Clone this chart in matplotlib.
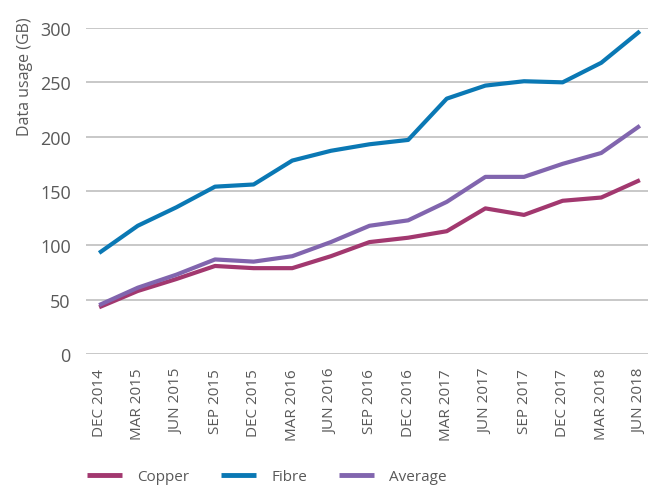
import matplotlib
matplotlib.use("Agg")
import matplotlib.pyplot as plt

plt.rcParams['font.family'] = ['Open Sans', 'DejaVu Sans']

quarters = ["DEC 2014", "MAR 2015", "JUN 2015", "SEP 2015", "DEC 2015", "MAR 2016",
            "JUN 2016", "SEP 2016", "DEC 2016", "MAR 2017", "JUN 2017", "SEP 2017",
            "DEC 2017", "MAR 2018", "JUN 2018"]
copper = [43, 58, 69, 81, 79, 79, 90, 103, 107, 113, 134, 128, 141, 144, 160]
fibre = [93, 118, 135, 154, 156, 178, 187, 193, 197, 235, 247, 251, 250, 268, 297]
average = [45, 61, 73, 87, 85, 90, 103, 118, 123, 140, 163, 163, 175, 185, 210]
yticks = [0, 50, 100, 150, 200, 250, 300]

c_copper = "#A2386F"
c_fibre = "#0A78B4"
c_avg = "#8165AE"
txt = "#595959"

fig = plt.figure(figsize=(6.48, 4.89), dpi=100)
ax = fig.add_axes([86/648, 1-355/489, 1-86/648, (355-29)/489])

x = list(range(len(quarters)))
ax.plot(x, copper, color=c_copper, lw=3, label="Copper", solid_capstyle='butt')
ax.plot(x, fibre, color=c_fibre, lw=3, label="Fibre", solid_capstyle='butt')
ax.plot(x, average, color=c_avg, lw=3, label="Average", solid_capstyle='butt')

ax.set_ylim(0, 300)
ax.set_xlim(-0.34, 14.21)
ax.set_yticks(yticks)
ax.set_yticklabels([str(v) for v in yticks], fontsize=13, color=txt)
ax.set_xticks(x)
ax.set_xticklabels(quarters, rotation=90, fontsize=11, color=txt)
ax.tick_params(axis='both', length=0)
ax.tick_params(axis='y', pad=11)
ax.tick_params(axis='x', pad=10)
ax.grid(axis='y', color="#BFBFBF", lw=1.2)
ax.set_axisbelow(True)
for s in ax.spines.values():
    s.set_visible(False)

fig.text(25/648, 1-17/489, "Data usage (GB)", rotation=90, ha='center', va='top',
         fontsize=11.5, color=txt)

leg = fig.legend(loc='center left', bbox_to_anchor=(84/648, 1-478/489), ncol=3,
                 frameon=False, fontsize=11, handlelength=2.3, handletextpad=1.0,
                 columnspacing=2.05, labelcolor=txt, borderaxespad=0, borderpad=0.2)
for h in leg.get_lines():
    h.set_linewidth(3.5)

fig.savefig("out.png", dpi=100)
